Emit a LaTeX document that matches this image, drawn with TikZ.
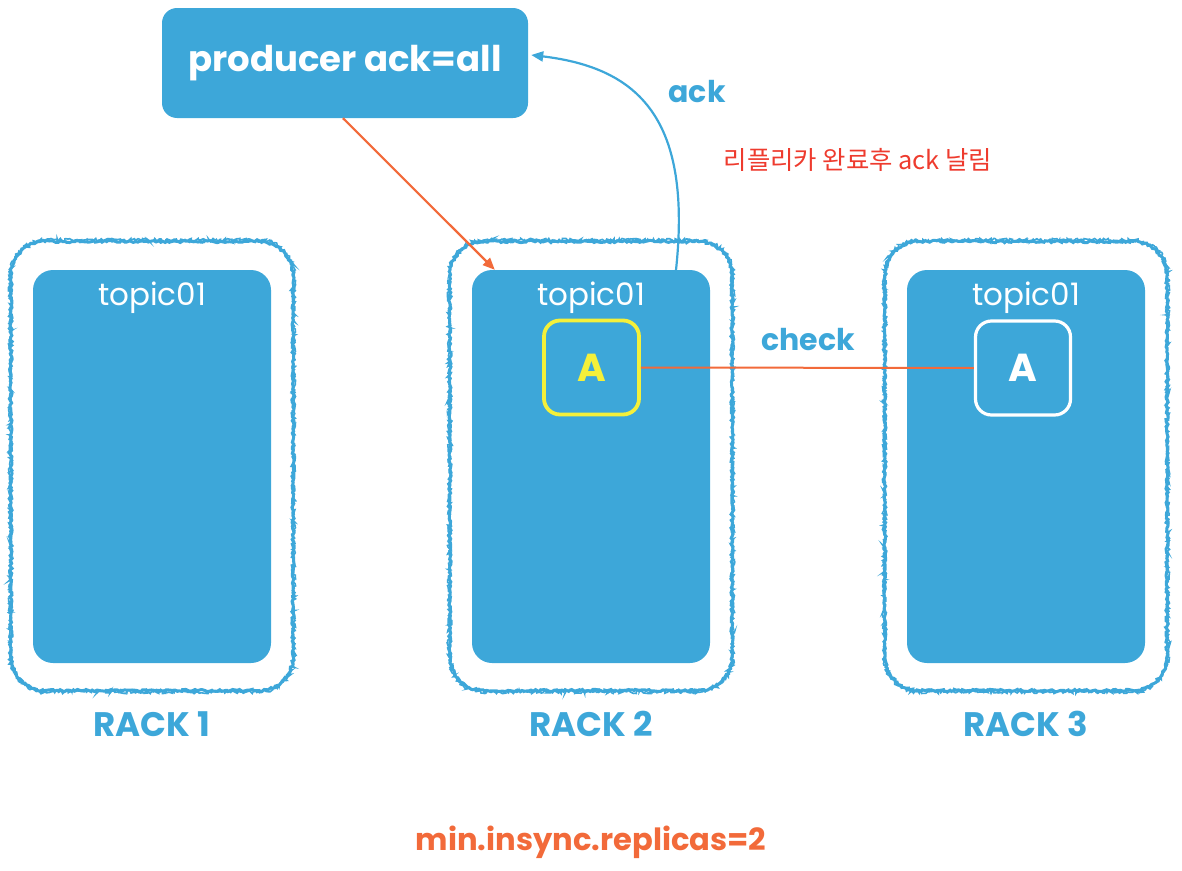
\documentclass[tikz,border=0pt]{standalone}
\usepackage{fontspec}
\setmainfont{Poppins}
\newfontfamily\krfont{Noto Sans CJK KR}
\usepackage{tikz}
\usetikzlibrary{arrows.meta,decorations.pathmorphing}
\definecolor{rackblue}{HTML}{3DA7D9}
\definecolor{arrowred}{HTML}{F26A3A}
\definecolor{leaderyellow}{HTML}{F4F03A}
\definecolor{notered}{HTML}{EE3B2E}

\begin{document}
\begin{tikzpicture}[x=1pt,y=-1pt,
  topicbox/.style={fill=rackblue,rounded corners=20pt,minimum width=238pt,minimum height=393pt,inner sep=0pt},
  rough/.style={draw=rackblue,line width=3pt},
  replica/.style={draw=#1,text=#1,line width=3.2pt,rounded corners=16pt,minimum width=95pt,minimum height=94pt,font=\fontsize{39}{46}\bfseries},
  bluelabel/.style={text=rackblue,font=\fontsize{30}{36}\bfseries}]
\useasboundingbox (0,0) rectangle (1182,870);
\pgfmathsetseed{7}
\node[fill=rackblue,rounded corners=15pt,minimum width=366pt,minimum height=110pt,text=white,font=\fontsize{35.5}{42}\bfseries] (prod) at (345,63) {producer ack=all};
\foreach \i/\x in {1/152,2/591,3/1026}{
  \node[topicbox] (r\i) at (\x,466.5) {};
  \draw[rough] decorate[decoration={random steps,segment length=2pt,amplitude=1.1pt}] {[rounded corners=34pt] (\x-141,241.5) rectangle (\x+141,690.5)};
  \draw[rough,line width=1.6pt] decorate[decoration={random steps,segment length=1.5pt,amplitude=1.6pt}] {[rounded corners=35pt] (\x-142,240) rectangle (\x+142,692)};
  \node[text=white,font=\fontsize{31}{36}\selectfont] (t\i) at ([yshift=-28pt]r\i.north) {topic01};
  \node[bluelabel,font=\fontsize{34}{40}\bfseries] (rk\i) at (\x,724) {RACK \i};
}
\node[replica=leaderyellow,line width=3.8pt] (lead) at (591.5,367.5) {A};
\node[replica=white] (foll) at (1023,368) {A};
\coordinate (ackfoot) at (676,270);
\draw[arrowred,line width=2.2pt,-{Triangle[length=12pt,width=10pt]}] ([xshift=-2pt]prod.south) -- ([xshift=23pt]r2.north west);
\draw[rackblue,line width=2.2pt,-{Triangle[length=12pt,width=10pt]}] (ackfoot) .. controls (692,120) and (640,68) .. ([xshift=3pt,yshift=8pt]prod.east);
\draw[arrowred,line width=2pt] (lead.east) -- (foll.west);
\node[bluelabel] (acklbl) at (697,92) {ack};
\node[bluelabel] (chk) at (808,340) {check};
\node[text=notered,font=\krfont\fontsize{25.4}{30}\selectfont] (note) at (858,160) {리플리카 완료후 ack 날림};
\node[text=arrowred,font=\fontsize{30.6}{36}\bfseries] (isr) at (591,842) {min.insync.replicas=2};
\end{tikzpicture}
\end{document}
